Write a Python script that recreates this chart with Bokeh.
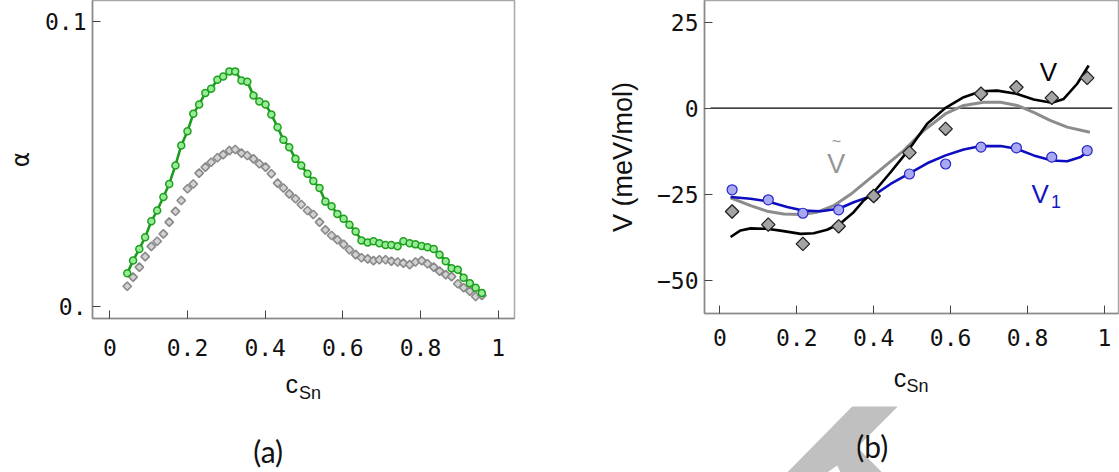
import math
from bokeh.plotting import figure
from bokeh.layouts import row, column
from bokeh.models import FixedTicker, Label, Range1d
from bokeh.embed import file_html
from bokeh.resources import INLINE

# ---------------- panel (a) data ----------------
c_a = [0.045, 0.060, 0.076, 0.091, 0.107, 0.122, 0.138, 0.153, 0.169, 0.184,
       0.200, 0.215, 0.230, 0.246, 0.261, 0.277, 0.292, 0.308, 0.323, 0.339,
       0.354, 0.370, 0.385, 0.401, 0.416, 0.432, 0.447, 0.462, 0.478, 0.493,
       0.509, 0.524, 0.540, 0.555, 0.571, 0.586, 0.602, 0.617, 0.633, 0.648,
       0.664, 0.679, 0.694, 0.710, 0.725, 0.741, 0.756, 0.772, 0.787, 0.803,
       0.818, 0.834, 0.849, 0.865, 0.880, 0.896, 0.911, 0.927, 0.942, 0.958]
alpha_green = [0.0117, 0.0161, 0.0202, 0.0243, 0.0299, 0.0337, 0.0384, 0.0430, 0.0495, 0.0565,
               0.0615, 0.0676, 0.0709, 0.0749, 0.0764, 0.0796, 0.0807, 0.0825, 0.0825, 0.0793,
               0.0789, 0.0740, 0.0719, 0.0709, 0.0674, 0.0629, 0.0585, 0.0559, 0.0518, 0.0495,
               0.0466, 0.0440, 0.0416, 0.0368, 0.0352, 0.0325, 0.0308, 0.0287, 0.0263, 0.0232,
               0.0225, 0.0229, 0.0222, 0.0216, 0.0216, 0.0211, 0.0229, 0.0222, 0.0218, 0.0212,
               0.0208, 0.0202, 0.0182, 0.0159, 0.0134, 0.0129, 0.0101, 0.0082, 0.0066, 0.0047]
alpha_gray = [0.0071, 0.0103, 0.0138, 0.0175, 0.0211, 0.0229, 0.0255, 0.0296, 0.0334, 0.0372,
              0.0413, 0.0430, 0.0468, 0.0489, 0.0506, 0.0522, 0.0533, 0.0547, 0.0551, 0.0538,
              0.0530, 0.0518, 0.0501, 0.0489, 0.0466, 0.0433, 0.0416, 0.0395, 0.0378, 0.0358,
              0.0337, 0.0323, 0.0296, 0.0269, 0.0249, 0.0234, 0.0218, 0.0199, 0.0182, 0.0171,
              0.0167, 0.0161, 0.0164, 0.0164, 0.0159, 0.0156, 0.0152, 0.0147, 0.0156, 0.0161,
              0.0150, 0.0138, 0.0124, 0.0112, 0.0105, 0.0080, 0.0066, 0.0054, 0.0035, 0.0039]
a_xticks = [0, 0.2, 0.4, 0.6, 0.8, 1]
a_xlabels = ["0", "0.2", "0.4", "0.6", "0.8", "1"]
a_yticks = [0, 0.1]
a_ylabels = ["0.", "0.1"]

# ---------------- panel (b) data ----------------
c_b = [0.032, 0.126, 0.216, 0.309, 0.400, 0.493, 0.587, 0.679, 0.771, 0.863, 0.955]
V_pts = [-30.0, -33.8, -39.4, -34.3, -25.5, -12.9, -6.0, 4.2, 6.1, 3.0, 8.8]
V1_pts = [-23.7, -26.6, -30.5, -29.5, -25.5, -19.1, -16.2, -11.3, -11.5, -14.2, -12.3]

V_curve_c = [0.028, 0.054, 0.080, 0.123, 0.166, 0.210, 0.244, 0.279, 0.314, 0.348, 0.374, 0.400,
             0.444, 0.493, 0.539, 0.587, 0.634, 0.679, 0.721, 0.771, 0.816, 0.863, 0.894, 0.929, 0.959]
V_curve = [-37.4, -35.5, -34.9, -35.0, -35.7, -36.5, -36.3, -35.3, -33.4, -30.2, -26.8, -24.4,
           -18.6, -11.8, -4.5, 0.1, 3.2, 4.9, 5.1, 4.2, 2.5, 1.6, 2.7, 7.1, 12.4]
Vt_curve_c = [0.028, 0.080, 0.123, 0.166, 0.210, 0.253, 0.296, 0.340, 0.374, 0.426, 0.478, 0.530,
              0.587, 0.634, 0.686, 0.730, 0.773, 0.816, 0.860, 0.903, 0.962]
Vt_curve = [-26.0, -28.3, -29.9, -30.7, -30.9, -30.2, -28.3, -25.0, -21.9, -17.1, -12.3, -6.5,
            -1.6, 0.8, 1.7, 1.7, 0.8, -1.2, -3.6, -5.5, -7.0]
V1_curve_c = [0.028, 0.080, 0.123, 0.175, 0.216, 0.262, 0.309, 0.348, 0.400, 0.444, 0.493, 0.539,
              0.587, 0.634, 0.679, 0.730, 0.771, 0.816, 0.863, 0.903, 0.938, 0.959]
V1_curve = [-25.8, -26.3, -27.0, -28.7, -29.7, -29.9, -29.2, -27.3, -25.3, -22.0, -18.9, -16.0,
            -13.7, -12.0, -11.0, -11.0, -11.8, -13.7, -15.2, -15.4, -14.2, -12.3]
b_xticks = [0, 0.2, 0.4, 0.6, 0.8, 1]
b_xlabels = ["0", "0.2", "0.4", "0.6", "0.8", "1"]
b_yticks = [-50, -25, 0, 25]
b_ylabels = ["\u221250", "\u221225", "0", "25"]

MONO = "DejaVu Sans Mono"
SANS = "Liberation Sans"
TOP_A = 370
TOP_B = 358
FRAME_A = (92, 514)     # page x of panel (a) frame
FRAME_B = (704, 1118)   # page x of panel (b) frame


def style_axes(p, xt, xl, yt, yl, xstand, ystand):
    p.xaxis.ticker = FixedTicker(ticks=xt)
    p.yaxis.ticker = FixedTicker(ticks=yt)
    p.xaxis.major_label_overrides = {t: s for t, s in zip(xt, xl)}
    p.yaxis.major_label_overrides = {t: s for t, s in zip(yt, yl)}
    for ax in (p.xaxis[0], p.yaxis[0]):
        ax.major_tick_in = 8
        ax.major_tick_out = 0
        ax.minor_tick_line_color = None
        ax.major_tick_line_color = "#444444"
        ax.major_tick_line_width = 1
        ax.axis_line_color = "#8a8a8a"
        ax.axis_line_width = 1.5
        ax.major_label_text_font = MONO
        ax.major_label_text_font_size = "23px"
        ax.major_label_text_color = "#111111"
        ax.axis_label_text_font_style = "normal"
        ax.axis_label_text_color = "#111111"
    p.xaxis.major_label_standoff = xstand
    p.yaxis.major_label_standoff = ystand
    p.grid.visible = False
    p.outline_line_color = "#a8a8a8"
    p.outline_line_width = 1.5


def strip(width, height, frame):
    # its frame lines up with the panel above, so x is given in page pixels
    q = figure(width=width, height=height, output_backend="svg", toolbar_location=None,
               x_range=Range1d(frame[0], frame[1]), y_range=Range1d(height, 0),
               x_axis_location=None, y_axis_location=None, min_border=0,
               outline_line_color=None, background_fill_color="white",
               border_fill_color="white")
    q.grid.visible = False
    return q


# ---------------- figure (a) ----------------
pa = figure(width=560, height=TOP_A, output_backend="svg", toolbar_location=None,
            x_range=Range1d(-0.04454, 1.04197), y_range=Range1d(-0.00421, 0.10737),
            min_border=0, min_border_left=FRAME_A[0], min_border_right=560 - FRAME_A[1],
            min_border_top=0, min_border_bottom=TOP_A - 318, background_fill_color="white",
            border_fill_color="white")
style_axes(pa, a_xticks, a_xlabels, a_yticks, a_ylabels, 20, 6)
pa.yaxis.axis_label = "\u03b1"
pa.yaxis.axis_label_text_font = MONO
pa.yaxis.axis_label_text_font_size = "24px"
pa.yaxis.axis_label_standoff = 7

pa.scatter(c_a, alpha_gray, marker="square", size=6, angle=math.pi / 4,
           fill_color="#d2d2d2", line_color="#8a8a8a", line_width=1.6)
pa.line(c_a, alpha_green, line_color="#1c9c1c", line_width=2.6)
pa.scatter(c_a, alpha_green, marker="circle", size=7,
           fill_color="#96ec96", line_color="#1ea01e", line_width=1.5)

# ---------------- figure (b) ----------------
pb = figure(width=559, height=TOP_B, output_backend="svg", toolbar_location=None,
            x_range=Range1d(-0.03977, 1.03639), y_range=Range1d(-59.61, 31.27),
            min_border=0, min_border_left=FRAME_B[0] - 560, min_border_right=1119 - FRAME_B[1],
            min_border_top=0, min_border_bottom=TOP_B - 313, background_fill_color="white",
            border_fill_color="white")
style_axes(pb, b_xticks, b_xlabels, b_yticks, b_ylabels, 15, 6)
pb.yaxis.axis_label = "V (meV/mol)"
pb.yaxis.axis_label_text_font = SANS
pb.yaxis.axis_label_text_font_size = "27px"
pb.yaxis.axis_label_standoff = 16

pb.segment(x0=[-0.024], y0=[0], x1=[1.02], y1=[0], line_color="black", line_width=1.3)
pb.line(Vt_curve_c, Vt_curve, line_color="#8c8c8c", line_width=3)
pb.line(V1_curve_c, V1_curve, line_color="#0c0cc0", line_width=2.6)
pb.line(V_curve_c, V_curve, line_color="#000000", line_width=2.6)
pb.scatter(c_b, V1_pts, marker="circle", size=10,
           fill_color="#a9a9f2", line_color="#2626cc", line_width=1.2)
pb.scatter(c_b, V_pts, marker="square", size=9.5, angle=math.pi / 4,
           fill_color="#a4a4a4", line_color="#222222", line_width=1.3)

pb.add_layout(Label(x=0.8544, y=10.45, text="V", text_font=SANS, text_font_size="26px",
                    text_align="center", text_baseline="alphabetic", text_color="#000000"))
pb.add_layout(Label(x=0.8103, y=-24.86, text="V", text_font=SANS, text_font_size="26px",
                    text_align="left", text_baseline="alphabetic", text_color="#1515c0"))
pb.add_layout(Label(x=0.861, y=-27.17, text="1", text_font=SANS, text_font_size="18px",
                    text_align="left", text_baseline="alphabetic", text_color="#1515c0"))
pb.add_layout(Label(x=0.279, y=-16.15, text="V", text_font=SANS, text_font_size="27px",
                    text_align="left", text_baseline="alphabetic", text_color="#959595"))
pb.add_layout(Label(x=0.3033, y=-9.8, text="~", text_font=SANS, text_font_size="16px",
                    text_align="center", text_baseline="middle", text_color="#959595"))

# ---------------- lower strips: axis titles and panel letters ----------------
qa = strip(560, 472 - TOP_A, FRAME_A)
oa = TOP_A
qa.add_layout(Label(x=285, y=393.3 - 9.5 - oa, text="c", text_font=SANS, text_font_size="25px",
                    text_align="left", text_baseline="alphabetic", text_color="#111111"))
qa.add_layout(Label(x=298.5, y=399.3 - 7 - oa, text="Sn", text_font=SANS, text_font_size="18px",
                    text_align="left", text_baseline="alphabetic", text_color="#111111"))
qa.add_layout(Label(x=267.7, y=450.8 - oa, text="(a)", text_font="Lato", text_font_size="30px",
                    text_align="center", text_baseline="middle", text_color="#111111"))

qb = strip(559, 472 - TOP_B, FRAME_B)
ob = TOP_B
mark_x = [851.7, 897.3, 856.7, 881.7, 840.0, 836.7, 826.7, 786.7]
mark_py = [406.0, 406.0, 446.7, 472.0, 472.0, 465.0, 472.0, 472.0]
qb.patch(mark_x, [v - ob for v in mark_py], fill_color="#c0c0c0", line_color=None)
qb.add_layout(Label(x=893.3, y=386.7 - 9.5 - ob, text="c", text_font=SANS, text_font_size="25px",
                    text_align="left", text_baseline="alphabetic", text_color="#111111"))
qb.add_layout(Label(x=906, y=392.7 - 7 - ob, text="Sn", text_font=SANS, text_font_size="18px",
                    text_align="left", text_baseline="alphabetic", text_color="#111111"))
qb.add_layout(Label(x=871.7, y=445.7 - ob, text="(b)", text_font="Lato", text_font_size="30px",
                    text_align="center", text_baseline="middle", text_color="#111111"))

layout = row(column(pa, qa), column(pb, qb))
open("out.html", "w").write(file_html(layout, INLINE))
